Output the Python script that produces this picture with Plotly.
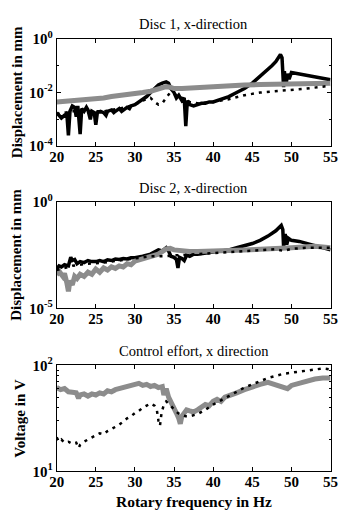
import numpy as np
import plotly.graph_objects as go

# ---------------- data (log10 of values) ----------------
# Panel 1: Disc 1, x-direction (displacement in mm)
p1_black_x = [20.0, 20.3, 20.6, 21.0, 21.3, 21.5, 21.7, 22.0, 22.3, 22.5, 22.7, 23.0, 23.2, 23.5, 23.8, 24.0,
              24.3, 24.5, 24.8, 25.0, 25.2, 25.6, 26.0, 26.3, 26.5, 27.0, 27.3, 27.5, 28.0, 28.3, 28.5, 29.0, 29.3,
              29.5, 30.0, 30.5, 31.0, 31.5, 32.0, 32.5, 33.0, 33.5, 34.0, 34.3, 34.6, 35.0, 35.3, 35.6, 36.0, 36.3,
              36.5, 36.7, 37.0, 37.5, 38.0, 38.5, 39.0, 39.5, 40.0, 41.0, 42.0, 43.0, 44.0, 45.0, 46.0, 47.0, 47.5,
              48.0, 48.4, 48.6, 48.8, 49.0, 49.1, 49.3, 49.5, 49.7, 50.0, 51.0, 52.0, 53.0, 54.0, 55.0]
p1_black_log = [-2.75, -2.85, -2.95, -2.85, -2.8, -3.6, -2.7, -2.5, -2.55, -2.9, -2.5, -3.55, -2.6, -2.7, -2.55, -2.65,
                -3.0, -2.7, -2.75, -3.2, -2.75, -2.7, -2.75, -2.85, -2.7, -2.65, -2.75, -2.7, -2.6, -2.7, -2.65,
                -2.55, -2.6, -2.5, -2.45, -2.35, -2.25, -2.15, -2.0, -1.85, -1.72, -1.65, -1.6, -1.65, -1.85, -2.0,
                -2.2, -2.1, -2.3, -2.2, -3.25, -2.3, -2.45, -2.5, -2.45, -2.4, -2.4, -2.35, -2.35, -2.25, -2.15, -2.0,
                -1.85, -1.65, -1.4, -1.15, -1.0, -0.85, -0.65, -0.58, -0.7, -1.8, -1.2, -1.75, -1.3, -1.5, -1.25,
                -1.3, -1.37, -1.42, -1.48, -1.52]
p1_gray_x = [20, 21, 22, 23, 24, 25, 26, 27, 28, 29, 30, 31, 32, 33, 34, 34.5, 35, 36, 37, 38, 39, 40, 42, 44, 46,
             48, 50, 52, 55]
p1_gray_log = [-2.35, -2.33, -2.3, -2.28, -2.25, -2.22, -2.2, -2.15, -2.12, -2.08, -2.05, -2.0, -1.95, -1.88, -1.78,
               -1.8, -1.85, -1.85, -1.83, -1.82, -1.8, -1.78, -1.75, -1.72, -1.7, -1.68, -1.66, -1.65, -1.65]
p1_dot_x = [20, 22, 24, 26, 28, 30, 31, 32, 32.5, 33, 33.5, 34, 34.5, 35, 36, 37, 38, 40, 42, 44, 46, 48, 49, 50,
            52, 54, 55]
p1_dot_log = [-2.8, -2.7, -2.7, -2.7, -2.6, -2.45, -2.3, -2.2, -2.35, -2.45, -2.4, -2.2, -2.0, -2.05, -2.2, -2.35,
              -2.4, -2.35, -2.25, -2.1, -2.0, -1.95, -1.95, -1.9, -1.85, -1.78, -1.75]

# Panel 2: Disc 2, x-direction
p2_black_x = [20, 20.3, 20.6, 21, 21.5, 21.8, 22, 22.3, 22.6, 23, 23.5, 24, 24.5, 25, 25.5, 26, 26.5, 27, 27.5, 28,
              28.5, 29, 29.5, 30, 31, 32, 33, 33.5, 34, 34.3, 34.6, 35, 35.3, 35.5, 35.7, 36, 36.3, 36.6, 37, 37.5,
              38, 39, 40, 41, 42, 43, 44, 45, 46, 47, 48, 48.5, 48.7, 48.9, 49.0, 49.2, 49.4, 49.6, 50, 51, 52, 53,
              54, 55]
p2_black_log = [-3.15, -3.0, -3.05, -2.95, -3.0, -2.6, -2.75, -2.7, -2.9, -2.8, -2.85, -2.75, -2.8, -2.8, -2.75, -2.8,
                -2.72, -2.75, -2.68, -2.7, -2.66, -2.68, -2.62, -2.62, -2.55, -2.45, -2.25, -2.3, -2.15, -2.3, -2.55,
                -2.6, -2.7, -3.1, -2.6, -2.65, -2.75, -2.5, -2.55, -2.45, -2.45, -2.4, -2.36, -2.3, -2.25, -2.15,
                -2.05, -1.95, -1.8, -1.6, -1.35, -1.15, -1.1, -1.3, -2.1, -1.5, -2.0, -1.7, -1.8, -1.85, -1.95, -2.05,
                -2.15, -2.25]
p2_gray_x = [20, 20.4, 20.8, 21, 21.3, 21.5, 21.7, 22, 22.3, 22.6, 23, 23.5, 24, 24.5, 25, 25.5, 26, 26.5, 27, 27.5,
             28, 28.5, 29, 29.5, 30, 31, 32, 33, 34, 34.5, 35, 36, 37, 38, 40, 42, 44, 46, 48, 50, 52, 53, 55]
p2_gray_log = [-3.4, -3.3, -3.5, -3.35, -3.8, -4.2, -3.7, -3.9, -3.5, -3.6, -3.4, -3.5, -3.3, -3.4, -3.15, -3.3, -3.1,
               -3.2, -3.05, -3.12, -3.0, -3.05, -2.9, -2.95, -2.78, -2.65, -2.55, -2.45, -2.2, -2.18, -2.25, -2.3,
               -2.32, -2.33, -2.32, -2.3, -2.25, -2.22, -2.2, -2.15, -2.1, -2.08, -2.15]
p2_dot_x = [20, 22, 24, 26, 28, 30, 32, 33, 34, 35, 36, 38, 40, 42, 44, 46, 48, 49, 50, 52, 55]
p2_dot_log = [-3.2, -3.0, -2.9, -2.85, -2.75, -2.65, -2.55, -2.55, -2.55, -2.5, -2.5, -2.45, -2.4, -2.35, -2.3, -2.27,
              -2.22, -2.3, -2.2, -2.15, -2.15]

# Panel 3: Control effort (voltage in V)
p3_gray_x = [20, 20.5, 21, 21.5, 22, 22.5, 22.8, 23, 23.5, 24, 24.5, 25, 25.5, 26, 26.5, 27, 27.5, 28, 28.5, 29, 29.5,
             30, 30.5, 31, 31.5, 32, 32.5, 33, 33.5, 33.7, 34, 34.3, 34.6, 35, 35.3, 35.6, 35.8, 36.0, 36.3, 36.6, 37,
             37.5, 38, 38.5, 39, 39.5, 40, 40.5, 41, 41.5, 42, 42.5, 43, 44, 45, 46, 47, 48, 49, 49.5, 50, 51, 52, 53,
             54, 55]
p3_gray_log = [1.79, 1.77, 1.78, 1.75, 1.745, 1.74, 1.69, 1.72, 1.73, 1.71, 1.73, 1.72, 1.74, 1.73, 1.76, 1.75, 1.77,
               1.78, 1.79, 1.8, 1.81, 1.82, 1.83, 1.81, 1.82, 1.80, 1.81, 1.79, 1.80, 1.72, 1.78, 1.70, 1.66, 1.60,
               1.55, 1.50, 1.45, 1.52, 1.55, 1.58, 1.57, 1.56, 1.58, 1.60, 1.63, 1.62, 1.66, 1.68, 1.66, 1.70, 1.71,
               1.72, 1.74, 1.77, 1.80, 1.82, 1.84, 1.82, 1.80, 1.78, 1.81, 1.83, 1.86, 1.87, 1.88, 1.88]
p3_dot_x = [20, 20.3, 20.6, 21, 21.5, 22, 22.5, 22.8, 23, 23.5, 24, 24.5, 25, 25.5, 26, 26.5, 27, 27.5, 28, 28.5, 29,
            29.5, 30, 30.5, 31, 31.5, 32, 32.5, 32.8, 33.0, 33.2, 33.4, 33.7, 34, 34.5, 35, 35.5, 36, 36.5, 37, 37.5,
            38, 39, 40, 41, 42, 43, 44, 45, 46, 47, 48, 49, 50, 51, 52, 53, 54, 55]
p3_dot_log = [1.32, 1.28, 1.30, 1.27, 1.28, 1.26, 1.27, 1.22, 1.25, 1.28, 1.30, 1.32, 1.34, 1.36, 1.35, 1.38, 1.40,
              1.42, 1.44, 1.47, 1.50, 1.52, 1.55, 1.57, 1.60, 1.62, 1.64, 1.62, 1.58, 1.48, 1.43, 1.55, 1.63, 1.66,
              1.62, 1.58, 1.55, 1.53, 1.52, 1.52, 1.53, 1.54, 1.58, 1.63, 1.67, 1.71, 1.75, 1.79, 1.82, 1.85, 1.88,
              1.90, 1.92, 1.93, 1.94, 1.95, 1.96, 1.97, 1.96]

x_ticks = [20, 25, 30, 35, 40, 45, 50, 55]
titles = ["Disc 1, x-direction", "Disc 2, x-direction", "Control effort, x direction"]
ylabels = ["Displacement in mm", "Displacement in mm", "Voltage in V"]
xlabel = "Rotary frequency in Hz"

# ---------------- figure ----------------
W, H = 350, 520
FONT = "Liberation Serif"
BLACK = "#000000"
GRAY = "#8c8c8c"

def px_x(p):
    return p / W

def px_y(p):
    return 1 - p / H

x0, x1 = px_x(51), px_x(338)
panels = [(30, 141), (199, 309), (368, 478)]

fig = go.Figure()

def add(xs, logs, color, width, dash, idx):
    suffix = "" if idx == 1 else str(idx)
    fig.add_trace(go.Scatter(x=xs, y=np.power(10.0, logs), mode="lines",
                             line=dict(color=color, width=width, dash=dash),
                             xaxis="x" + suffix, yaxis="y" + suffix, showlegend=False,
                             hoverinfo="skip"))

DOT = "3px,5px"
add(p1_black_x, p1_black_log, BLACK, 3.5, "solid", 1)
add(p1_gray_x, p1_gray_log, GRAY, 5, "solid", 1)
add(p1_dot_x, p1_dot_log, BLACK, 2.5, DOT, 1)
add(p2_black_x, p2_black_log, BLACK, 3.5, "solid", 2)
add(p2_gray_x, p2_gray_log, GRAY, 5, "solid", 2)
add(p2_dot_x, p2_dot_log, BLACK, 2.5, DOT, 2)
add(p3_gray_x, p3_gray_log, GRAY, 5, "solid", 3)
add(p3_dot_x, p3_dot_log, BLACK, 2.5, DOT, 3)

tickfont = dict(family=FONT, size=15, color="black", weight="bold")
axis_common = dict(showline=True, linecolor="black", linewidth=1, mirror="ticks",
                   ticks="inside", ticklen=4, tickcolor="black", showgrid=False,
                   zeroline=False, tickfont=tickfont)

yranges = [(-4, 0), (-5, 0), (1, 2)]
yticks = [[-4, -2, 0], [-5, 0], [1, 2]]
minors = [[1e-3, 1e-1], [], [20, 30, 40, 50, 60, 70, 80, 90]]

layout = dict(width=W, height=H, margin=dict(l=0, r=0, t=0, b=0),
              paper_bgcolor="white", plot_bgcolor="white")
for i, (top, bot) in enumerate(panels):
    suffix = "" if i == 0 else str(i + 1)
    layout["xaxis" + suffix] = dict(axis_common, domain=[x0, x1], range=[20, 55],
                                    tickvals=x_ticks, anchor="y" + suffix,
                                    ticklabelstandoff=-3)
    yv = [10.0 ** e for e in yticks[i]]
    yt = ["10<sup>%d</sup>" % e for e in yticks[i]]
    layout["yaxis" + suffix] = dict(axis_common, type="log", domain=[px_y(bot), px_y(top)],
                                    range=list(yranges[i]), tickvals=yv, ticktext=yt,
                                    anchor="x" + suffix,
                                    minor=dict(tickvals=minors[i], ticks="inside", ticklen=2,
                                               tickcolor="black", showgrid=False))
fig.update_layout(**layout)

ann = []
title_y = [15, 184, 353]
for i, (top, bot) in enumerate(panels):
    ann.append(dict(text=titles[i], x=(x0 + x1) / 2, y=px_y(title_y[i]), xref="paper", yref="paper",
                    showarrow=False, font=dict(family=FONT, size=14.5, color="black"),
                    xanchor="center", yanchor="middle"))
    ann.append(dict(text=ylabels[i], x=px_x(9 if i < 2 else 13), y=px_y((top + bot) / 2),
                    xref="paper", yref="paper", showarrow=False, textangle=-90,
                    font=dict(family=FONT, size=15, color="black", weight="bold"),
                    xanchor="center", yanchor="middle"))
ann.append(dict(text=xlabel, x=(x0 + x1) / 2, y=px_y(509), xref="paper", yref="paper",
                showarrow=False, font=dict(family=FONT, size=15.5, color="black", weight="bold"),
                xanchor="center", yanchor="middle"))
fig.update_layout(annotations=ann)

fig.write_html("out.html")
